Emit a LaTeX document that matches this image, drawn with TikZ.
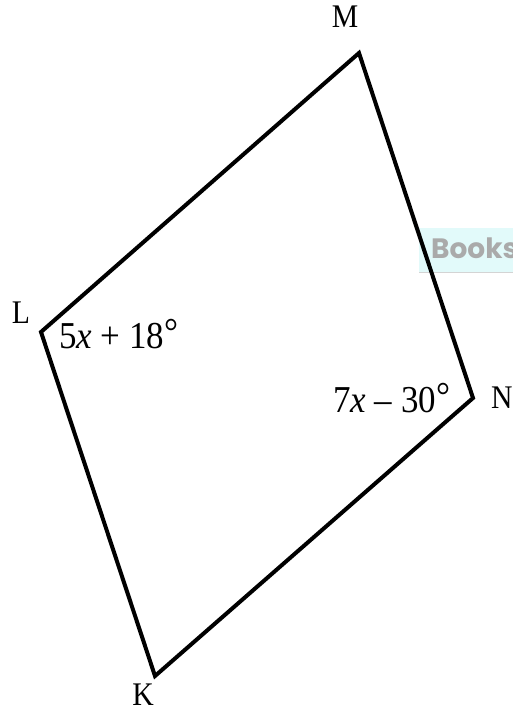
\documentclass[tikz,border=0pt]{standalone}
\usepackage{fontspec}
\setmainfont{Liberation Serif}
\newfontfamily\tagfont{Poppins}
\usetikzlibrary{positioning, calc}

\definecolor{tagfill}{RGB}{226,250,250}
\definecolor{tagtext}{RGB}{170,170,170}

\newcommand{\degsign}{\raisebox{4pt}{°}}

\begin{document}
\begin{tikzpicture}[
    x=1pt, y=-1pt,
    side/.style={line width=4pt, draw=black, line join=miter},
    vlabel/.style={font=\fontsize{33}{33}\selectfont, inner sep=0pt, anchor=base,
                   xscale=0.9, transform shape},
    anglabel/.style={font=\fontsize{38}{38}\selectfont, inner sep=0pt, anchor=base west,
                     xscale=0.92, transform shape},
    tagbox/.style={fill=tagfill, draw=none, inner sep=0pt},
]
\useasboundingbox (0,0) rectangle (513,706);
\clip (0,0) rectangle (513,706);

% "Books" tag behind the figure
\node[tagbox, minimum width=120pt, minimum height=44pt, anchor=north west] (tag) at (419,228) {};
\draw[tagtext!50, line width=1pt] (tag.south west) -- (tag.south east);
\node[font=\tagfont\bfseries\fontsize{28}{28}\selectfont, text=tagtext, inner sep=0pt, anchor=base west] (tagtxt) at (431,258) {Books};

% Vertices
\coordinate (L) at (41,332);
\coordinate (M) at (359,53);
\coordinate (N) at (473,398);
\coordinate (K) at (155,676);

% Parallelogram
\draw[side] (L) -- (M) -- (N) -- (K) -- cycle;

% Vertex labels
\node[vlabel] (lblM) at (345,28) {M};
\node[vlabel] (lblL) at (21,323) {L};
\node[vlabel, anchor=base west] (lblN) at (491,408) {N};
\node[vlabel] (lblK) at (143,705) {K};

% Angle measures
\node[anglabel] (angL) at (59,348) {5\textit{x} + 18\degsign};
\node[anglabel] (angN) at (333,412) {7\textit{x} – 30\degsign};

\end{tikzpicture}
\end{document}
